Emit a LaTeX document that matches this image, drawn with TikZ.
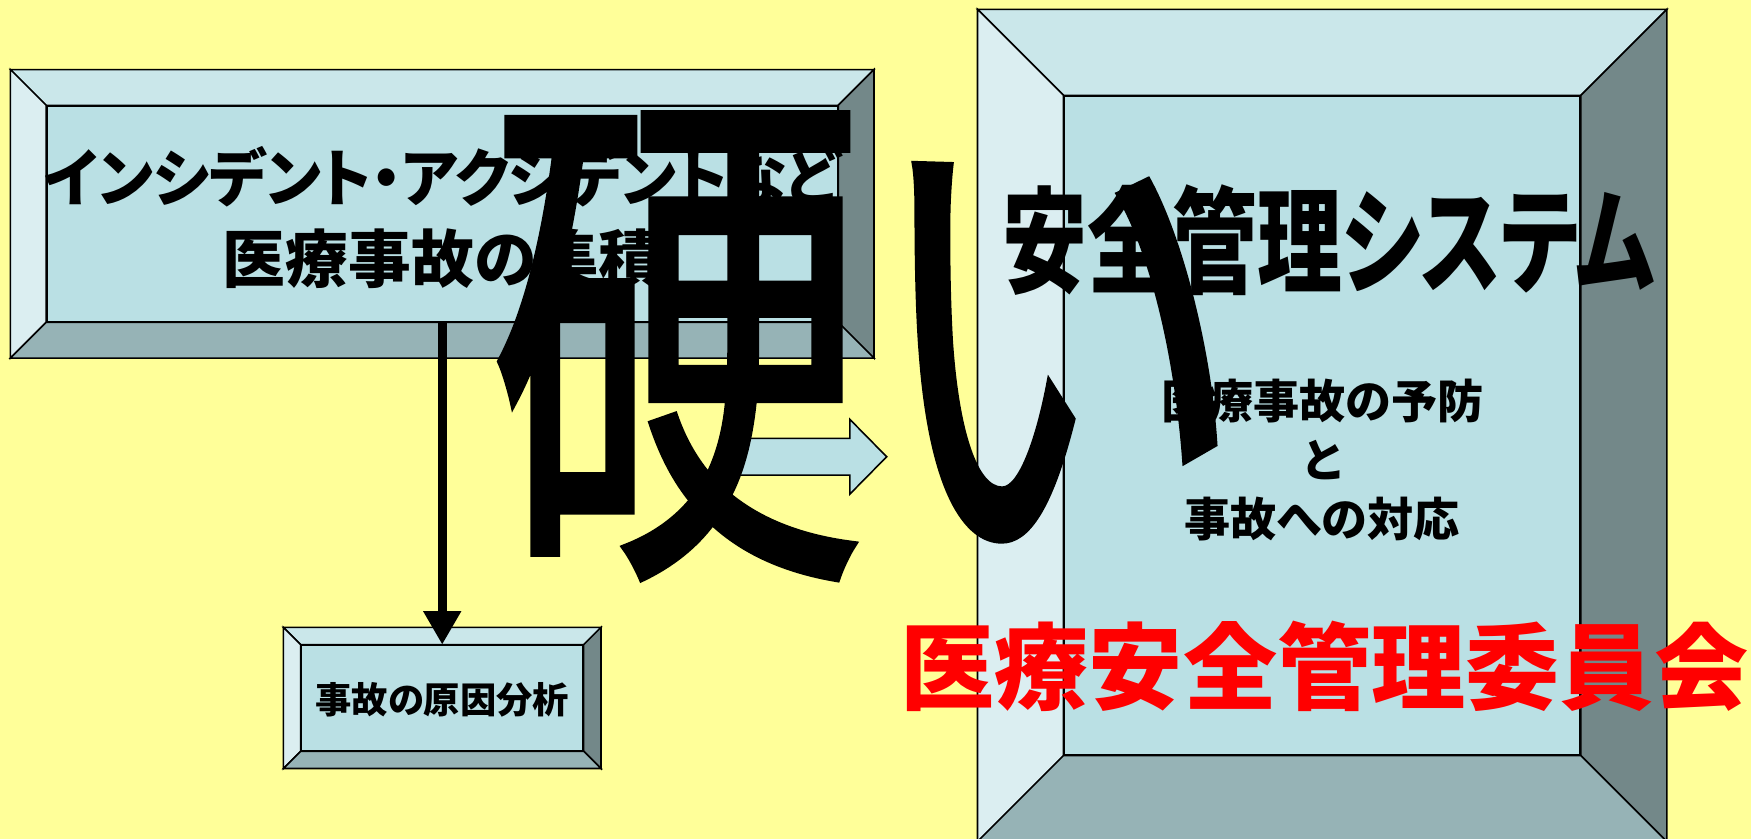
\documentclass[tikz,border=0pt]{standalone}
\usepackage{fontspec}
\usepackage{graphicx}
\usepackage{tikz}
\usetikzlibrary{arrows.meta}
\newfontfamily\jp[RawFeature=+palt]{Noto Sans CJK JP}
\newfontfamily\jpheavy[FakeBold=1.3]{Noto Sans CJK JP}
\definecolor{paper}{HTML}{FFFF99}
\definecolor{face}{HTML}{BAE0E4}
\definecolor{bvtop}{HTML}{CAE7EA}
\definecolor{bvleft}{HTML}{DBEEF1}
\definecolor{bvright}{HTML}{738889}
\definecolor{bvbottom}{HTML}{96B3B6}

% bevel frame round a face node: #1 node name, #2 bevel size
\newcommand{\bevelframe}[2]{%
    \path (#1.north west) ++(-#2,-#2) coordinate (#1-nw)
          (#1.north east) ++(#2,-#2) coordinate (#1-ne)
          (#1.south east) ++(#2,#2) coordinate (#1-se)
          (#1.south west) ++(-#2,#2) coordinate (#1-sw);
    \filldraw[bevel top] (#1-nw) -- (#1-ne) -- (#1.north east) -- (#1.north west) -- cycle;
    \filldraw[bevel left] (#1-nw) -- (#1.north west) -- (#1.south west) -- (#1-sw) -- cycle;
    \filldraw[bevel right] (#1-ne) -- (#1-se) -- (#1.south east) -- (#1.north east) -- cycle;
    \filldraw[bevel bottom] (#1-sw) -- (#1.south west) -- (#1.south east) -- (#1-se) -- cycle;
}

\begin{document}
\begin{tikzpicture}[x=0.02cm, y=-0.02cm, line width=0.8pt]
    \tikzstyle{face}=[draw=black, fill=face, inner sep=0pt]
    \tikzstyle{bevel top}=[draw=black, fill=bvtop]
    \tikzstyle{bevel left}=[draw=black, fill=bvleft]
    \tikzstyle{bevel right}=[draw=black, fill=bvright]
    \tikzstyle{bevel bottom}=[draw=black, fill=bvbottom]
    \tikzstyle{note}=[inner sep=0pt, align=center]
    \tikzstyle{block}=[draw=black, fill=face, line join=miter]

    % Paper
    \fill[paper] (0,0) rectangle (1568,751);
    \useasboundingbox (0,0) rectangle (1568,751);

    % Draw the boxes
    \node[face, minimum width=14.16cm, minimum height=3.86cm] (collect) at (396,191.5) {};
    \bevelframe{collect}{32}
    \node[face, minimum width=5.04cm, minimum height=1.88cm] (cause) at (396,625) {};
    \bevelframe{cause}{15.5}
    \node[face, minimum width=9.24cm, minimum height=11.8cm] (system) at (1184,381) {};
    \bevelframe{system}{77}

    % Texts of the small boxes
    \node[note, font=\jp\bfseries\fontsize{32}{41}\selectfont] (collect-text) at (396,195)
        {\scalebox{0.96}[1]{インシデント・アクシデントなど}\\医療事故の集積};
    \node[note, font=\jp\bfseries\fontsize{18.5}{22}\selectfont] (cause-text) at (396,627) {事故の原因分析};

    % Connect the boxes
    \draw[line width=0.16cm, -{Triangle[width=0.64cm, length=0.6cm]}] (collect.south) -- (cause.north);
    \coordinate (flow-tail) at (660,409);
    \coordinate (flow-tip) at (794,409);
    \draw[block] (flow-tail) ++(0,-16.5) -- ++(101,0) -- ++(0,-17) -- (flow-tip)
        -- ++(-33,33.5) -- ++(0,-17) -- ++(-101,0) -- cycle;

    % Texts of the system box
    \node[note, font=\jp\bfseries\fontsize{42}{42}\selectfont] (title) at (1190,215)
        {\scalebox{1.03}[1.4]{安全管理システム}};
    \node[note, font=\jp\bfseries\fontsize{23.5}{30}\selectfont] (tasks) at (1184,412)
        {医療事故の予防\\と\\事故への対応};
    \node[note, text=red, font=\jp\bfseries\fontsize{48}{48}\selectfont] (committee) at (1186,597)
        {医療安全管理委員会};

    % Big word on top
    \node[note, font=\jpheavy\fontsize{193}{193}\selectfont] (hard) at (776,310)
        {\scalebox{1}[1.4]{硬い}};
\end{tikzpicture}
\end{document}
